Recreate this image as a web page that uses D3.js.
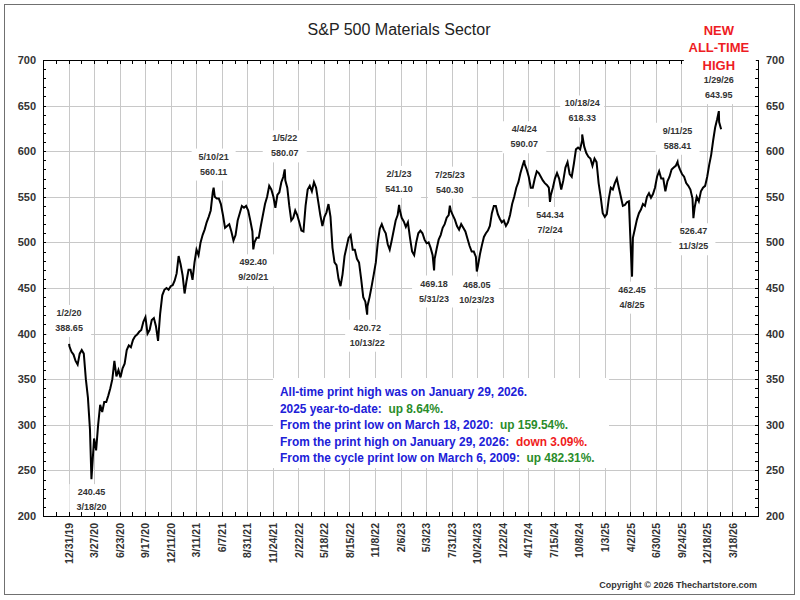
<!DOCTYPE html>
<html>
<head>
<meta charset="utf-8">
<script src="https://cdn.jsdelivr.net/npm/d3@7"></script>
<style>
  body { margin: 0; background: #fff; }
  svg text { font-family: Arial, "Liberation Sans", sans-serif; }
</style>
</head>
<body>
<div id="chart"></div>
<script>
// weekly (Friday) closes, one array per year
var close2020 = [386,380,377,370,366,378,382,378,350,330,295,250,285,272,300,322,314,325,325,332,340,350,370,353,360,352,362,367,382,387,385,393,397,399,402,404,413,418,400,404,415,417,408,392,422,442,448,450,448,452,453,458];
var close2021 = [466,485,476,464,444,458,470,470,459,478,492,486,500,508,514,522,528,535,555,550,548,548,542,530,516,518,520,512,502,508,524,532,540,538,540,535,524,512,500,505,505,518,530,542,550,562,558,550,538,552,555,566,572];
var close2022 = [568,560,540,524,527,535,530,522,513,512,540,558,562,556,566,560,545,530,518,528,533,542,528,494,478,475,460,452,465,485,495,505,508,492,492,482,478,460,440,435,430,440,452,465,478,500,515,520,514,510,498,492];
var close2023 = [502,513,524,530,536,527,523,517,522,505,490,486,500,510,513,510,503,499,500,494,486,482,493,503,508,516,520,527,530,535,530,525,518,514,520,516,512,504,496,490,490,484,474,487,497,506,510,513,518,532,540,540];
var close2024 = [531,526,522,524,518,522,530,542,550,560,566,576,584,586,580,572,560,560,570,578,576,572,568,565,563,560,552,560,570,576,570,558,568,582,588,575,572,586,602,604,602,612,605,598,594,592,584,592,588,565,550,532];
var close2025 = [528,531,548,560,558,565,570,560,550,540,541,544,545,490,505,515,525,532,536,542,540,550,554,549,553,560,572,578,570,570,556,567,572,580,582,584,586,580,575,572,565,562,558,548,538,550,545,556,560,562,572,585];
var close2026 = [596,612,626,635,632,624];

// x axis tick labels (every 60 trading days)
var tickLabels = ["12/31/19","3/27/20","6/23/20","9/17/20","12/11/20","3/11/21","6/7/21","8/31/21","11/24/21","2/22/22","5/18/22","8/15/22","11/8/22","2/6/23","5/3/23","7/31/23","10/24/23","1/22/24","4/17/24","7/15/24","10/8/24","1/3/25","4/2/25","6/30/25","9/24/25","12/18/25","3/18/26"];
var yTicks = [200,250,300,350,400,450,500,550,600,650,700];

// marked highs and lows
var annDates  = ["1/2/20","3/18/20","5/10/21","9/20/21","1/5/22","10/13/22","2/1/23","5/31/23","7/25/23","10/23/23","4/4/24","7/2/24","10/18/24","4/8/25","9/11/25","11/3/25","1/29/26"];
var annValues = [388.65,240.45,560.11,492.40,580.07,420.72,541.10,469.18,540.30,468.05,590.07,544.34,618.33,462.45,588.41,526.47,643.95];
var annKind   = ["high","low","high","low","high","low","high","low","high","low","high","low","high","low","high","low","high"];

var noteLines = [
  [["All-time print high was on January 29, 2026.", "blue"]],
  [["2025 year-to-date:  ", "blue"], ["up 8.64%.", "green"]],
  [["From the print low on March 18, 2020:  ", "blue"], ["up 159.54%.", "green"]],
  [["From the print high on January 29, 2026:  ", "blue"], ["down 3.09%.", "red"]],
  [["From the cycle print low on March 6, 2009:  ", "blue"], ["up 482.31%.", "green"]]
];
var noteColors = {blue: "#2020d8", green: "#2a8c2a", red: "#f01c1c"};

var parse = d3.timeParse("%m/%d/%y");
var fmt = d3.timeFormat("%-m/%-d/%y");

// build weekly series
var yearly = [[2020, close2020],[2021, close2021],[2022, close2022],[2023, close2023],[2024, close2024],[2025, close2025],[2026, close2026]];
var series = [];
yearly.forEach(function(yv) {
    var days = d3.timeFriday.range(new Date(yv[0], 0, 1), new Date(yv[0] + 1, 0, 1));
    yv[1].forEach(function(v, i) {
        if (days[i]) series.push({date: days[i], value: v});
    });
});
var anns = annDates.map(function(d, i) {
    return {date: parse(d), label: d, value: annValues[i], kind: annKind[i]};
});
anns.forEach(function(a) { series.push({date: a.date, value: a.value}); });
series.sort(function(a, b) { return a.date - b.date; });

var W = 800, H = 600;
var pLeft = 43, pRight = 758, pTop = 60, pBottom = 516;

var svg = d3.select("#chart").append("svg")
    .attr("width", W)
    .attr("height", H);

svg.append("rect")
    .attr("x", 4.5).attr("y", 4.5)
    .attr("width", 790).attr("height", 590)
    .attr("fill", "#fff")
    .attr("stroke", "#707070");

// x: tick dates are equally spaced (trading-day axis)
var tickDates = tickLabels.map(parse);
var domainDates = [new Date(2019, 9, 3)].concat(tickDates, [new Date(2026, 5, 12)]);
var step = (pRight - pLeft) / (domainDates.length - 1);
var x = d3.scaleTime()
    .domain(domainDates)
    .range(domainDates.map(function(d, i) { return pLeft + i * step; }));

var y = d3.scaleLinear().domain([200, 700]).range([pBottom, pTop]);

// grid
var grid = svg.append("g").attr("stroke", "#c8c8c8").attr("stroke-width", 1);
grid.selectAll(".gx").data(tickDates).enter().append("line")
    .attr("x1", d => Math.round(x(d)) + 0.5).attr("x2", d => Math.round(x(d)) + 0.5)
    .attr("y1", pTop).attr("y2", pBottom);
grid.selectAll(".gy").data(yTicks).enter().append("line")
    .attr("x1", pLeft).attr("x2", pRight)
    .attr("y1", d => Math.round(y(d)) + 0.5).attr("y2", d => Math.round(y(d)) + 0.5);

// white boxes behind labels
var labelFont = "bold 9px Arial, 'Liberation Sans', sans-serif";
function labelTop(a) {
    return a.kind === "high" ? y(a.value) - 39 : y(a.value) + 5;
}
svg.append("g").selectAll("rect").data(anns).enter().append("rect")
    .attr("x", d => x(d.date) - 22)
    .attr("y", d => labelTop(d))
    .attr("width", 44)
    .attr("height", 32)
    .attr("fill", "#fff");

// note box
var note = svg.append("g").attr("transform", "translate(273,378)");
note.append("rect").attr("width", 336).attr("height", 90).attr("fill", "#fff");
noteLines.forEach(function(line, i) {
    var t = note.append("text")
        .attr("x", 7)
        .attr("y", 18 + i * 16.5)
        .style("font-size", "11.9px")
        .style("font-weight", "bold")
        .style("white-space", "pre");
    line.forEach(function(part) {
        t.append("tspan").attr("fill", noteColors[part[1]]).text(part[0]);
    });
});

// price series
var line = d3.line()
    .x(d => x(d.date))
    .y(d => y(d.value));
svg.append("path")
    .datum(series)
    .attr("d", line)
    .attr("fill", "none")
    .attr("stroke", "#000")
    .attr("stroke-width", 2)
    .attr("stroke-linejoin", "miter");

// annotation text
var ag = svg.append("g").selectAll("g").data(anns).enter().append("g")
    .attr("transform", d => "translate(" + x(d.date) + "," + labelTop(d) + ")");
ag.append("text")
    .attr("y", 11)
    .attr("text-anchor", "middle")
    .style("font", labelFont).attr("fill", "#333")
    .text(d => d.kind === "high" ? d.label : d.value.toFixed(2));
ag.append("text")
    .attr("y", 26)
    .attr("text-anchor", "middle")
    .style("font", labelFont).attr("fill", "#333")
    .text(d => d.kind === "high" ? d.value.toFixed(2) : d.label);

// plot border
svg.append("rect")
    .attr("x", pLeft + 0.5).attr("y", pTop + 0.5)
    .attr("width", pRight - pLeft).attr("height", pBottom - pTop)
    .attr("fill", "none").attr("stroke", "#000");

// minor ticks
var half = [];
for (var i = 1; i < domainDates.length; i++) {
    half.push(x(domainDates[i - 1]));
    half.push((x(domainDates[i - 1]) + x(domainDates[i])) / 2);
}
var ticks = svg.append("g").attr("stroke", "#000");
ticks.selectAll(".tt").data(half.slice(1)).enter().append("line")
    .attr("x1", d => Math.round(d) + 0.5).attr("x2", d => Math.round(d) + 0.5)
    .attr("y1", pTop).attr("y2", pTop + 4);
ticks.selectAll(".tb").data(half.slice(1)).enter().append("line")
    .attr("x1", d => Math.round(d) + 0.5).attr("x2", d => Math.round(d) + 0.5)
    .attr("y1", pBottom).attr("y2", pBottom - 4);
var yMinor = d3.range(210, 700, 10);
ticks.selectAll(".tl").data(yMinor).enter().append("line")
    .attr("x1", pLeft).attr("x2", pLeft + 3)
    .attr("y1", d => Math.round(y(d)) + 0.5).attr("y2", d => Math.round(y(d)) + 0.5);
ticks.selectAll(".tr").data(yMinor).enter().append("line")
    .attr("x1", pRight - 3).attr("x2", pRight)
    .attr("y1", d => Math.round(y(d)) + 0.5).attr("y2", d => Math.round(y(d)) + 0.5);

// axes
function styleAxis(g) {
    g.select(".domain").remove();
    g.selectAll("text")
        .attr("fill", "#333")
        .style("font-size", "11px")
        .style("font-weight", "bold")
        .style("font-family", "Arial, 'Liberation Sans', sans-serif");
}
svg.append("g")
    .attr("transform", "translate(" + pLeft + ",0)")
    .call(d3.axisLeft(y).tickValues(yTicks).tickSize(0).tickPadding(7))
    .call(styleAxis);
svg.append("g")
    .attr("transform", "translate(" + pRight + ",0)")
    .call(d3.axisRight(y).tickValues(yTicks).tickSize(0).tickPadding(8))
    .call(styleAxis);
var xa = svg.append("g")
    .attr("transform", "translate(0," + pBottom + ")")
    .call(d3.axisBottom(x).tickValues(tickDates).tickFormat(fmt).tickSize(0))
    .call(styleAxis);
xa.selectAll("text")
    .style("font-size", "10.5px")
    .attr("transform", "rotate(-90)")
    .attr("x", -7)
    .attr("y", 0)
    .attr("dy", "0.35em")
    .style("text-anchor", "end");

// title
svg.append("text")
    .attr("x", 399).attr("y", 35)
    .attr("text-anchor", "middle")
    .attr("fill", "#222")
    .style("font-size", "16px")
    .text("S&P 500 Materials Sector");

// new all-time high banner
var banner = svg.append("g").attr("transform", "translate(" + x(parse("1/29/26")) + ",0)");
banner.append("rect")
    .attr("x", -35).attr("y", 16)
    .attr("width", 72).attr("height", 56)
    .attr("fill", "#fff");
["NEW", "ALL-TIME", "HIGH"].forEach(function(s, i) {
    banner.append("text")
        .attr("y", 34.5 + i * 17.5)
        .attr("text-anchor", "middle")
        .attr("fill", "#ee1c24")
        .style("font-size", "13px")
        .style("font-weight", "bold")
        .text(s);
});

// copyright
svg.append("text")
    .attr("x", 757).attr("y", 588)
    .attr("text-anchor", "end")
    .attr("fill", "#333")
    .style("font-size", "9px")
    .style("font-weight", "bold")
    .text("Copyright \u00a9 2026 Thechartstore.com");
</script>
</body>
</html>
